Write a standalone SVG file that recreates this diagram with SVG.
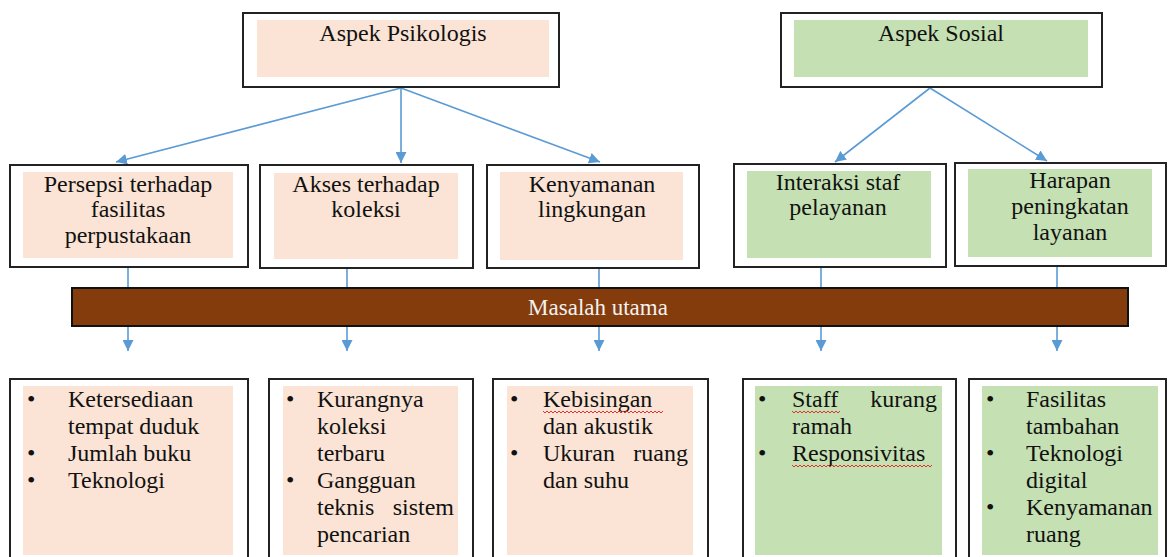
<svg xmlns="http://www.w3.org/2000/svg" width="1168" height="557" viewBox="0 0 1168 557">
<defs>
<style>
.frame{fill:#fff;stroke:#222;stroke-width:2}
.peach{fill:#FBE4D5}
.green{fill:#C5E0B3}
.t{font-family:"Liberation Serif","Times New Roman","DejaVu Serif",serif;font-size:24px;fill:#111}
.c{text-anchor:middle}
.e{text-anchor:end}
.bar{fill:#843C0C;stroke:#111;stroke-width:2}
.bt{font-family:"Liberation Serif","Times New Roman","DejaVu Serif",serif;font-size:23px;fill:#F2F2F2;text-anchor:middle}
.conn{stroke:#5B9BD5;stroke-width:1.6;fill:none}
.spell{stroke:#E03030;stroke-width:1;fill:none}
</style>
<marker id="ah" viewBox="0 0 10 10" refX="10" refY="5" markerWidth="11" markerHeight="11" markerUnits="userSpaceOnUse" orient="auto">
<path d="M0,0 L10,5 L0,10 z" fill="#5B9BD5"/>
</marker>
</defs>
<rect width="1168" height="557" fill="#fff"/>

<g id="connectors">
<line class="conn" x1="401" y1="88" x2="116" y2="162" marker-end="url(#ah)"/>
<line class="conn" x1="401" y1="88" x2="401" y2="163" marker-end="url(#ah)"/>
<line class="conn" x1="401" y1="88" x2="600" y2="162" marker-end="url(#ah)"/>
<line class="conn" x1="930" y1="88" x2="835" y2="162" marker-end="url(#ah)"/>
<line class="conn" x1="930" y1="88" x2="1047" y2="161" marker-end="url(#ah)"/>
<line class="conn" x1="128" y1="267" x2="128" y2="288"/>
<line class="conn" x1="347" y1="268" x2="347" y2="288"/>
<line class="conn" x1="599" y1="268" x2="599" y2="288"/>
<line class="conn" x1="821" y1="267" x2="821" y2="288"/>
<line class="conn" x1="1057" y1="266" x2="1057" y2="288"/>
<line class="conn" x1="128" y1="326" x2="128" y2="351" marker-end="url(#ah)"/>
<line class="conn" x1="347" y1="326" x2="347" y2="351" marker-end="url(#ah)"/>
<line class="conn" x1="599" y1="326" x2="599" y2="351" marker-end="url(#ah)"/>
<line class="conn" x1="821" y1="326" x2="821" y2="351" marker-end="url(#ah)"/>
<line class="conn" x1="1057" y1="326" x2="1057" y2="351" marker-end="url(#ah)"/>
</g>

<g id="aspek-psikologis">
<rect class="frame" x="243" y="13" width="316" height="74"/>
<rect class="peach" x="257" y="20" width="292" height="57"/>
<text class="t c" x="403" y="41">Aspek Psikologis</text>
</g>
<g id="aspek-sosial">
<rect class="frame" x="781" y="13" width="321" height="74"/>
<rect class="green" x="794" y="20" width="294" height="57"/>
<text class="t c" x="941" y="41">Aspek Sosial</text>
</g>

<g id="persepsi">
<rect class="frame" x="10" y="165" width="238" height="102"/>
<rect class="peach" x="23" y="172" width="210" height="86"/>
<text class="t c" x="128" y="192">Persepsi terhadap</text>
<text class="t c" x="128" y="217">fasilitas</text>
<text class="t c" x="128" y="243">perpustakaan</text>
</g>
<g id="akses">
<rect class="frame" x="260" y="165" width="213" height="103"/>
<rect class="peach" x="274" y="173" width="184" height="86"/>
<text class="t c" x="366" y="192">Akses terhadap</text>
<text class="t c" x="366" y="217">koleksi</text>
</g>
<g id="kenyamanan">
<rect class="frame" x="487" y="165" width="212" height="103"/>
<rect class="peach" x="500" y="172" width="183" height="88"/>
<text class="t c" x="592" y="192">Kenyamanan</text>
<text class="t c" x="592" y="217">lingkungan</text>
</g>
<g id="interaksi">
<rect class="frame" x="734" y="164" width="212" height="103"/>
<rect class="green" x="747" y="171" width="184" height="87"/>
<text class="t c" x="838" y="190">Interaksi staf</text>
<text class="t c" x="838" y="215">pelayanan</text>
</g>
<g id="harapan">
<rect class="frame" x="955" y="163" width="211" height="103"/>
<rect class="green" x="968" y="169" width="184" height="88"/>
<text class="t c" x="1070" y="188">Harapan</text>
<text class="t c" x="1070" y="214">peningkatan</text>
<text class="t c" x="1070" y="240">layanan</text>
</g>

<g id="masalah-utama">
<rect class="bar" x="72" y="288" width="1056" height="38"/>
<text class="bt" x="598" y="315">Masalah utama</text>
</g>

<g id="detail-persepsi">
<rect class="frame" x="10" y="379" width="238" height="190"/>
<rect class="peach" x="23" y="386" width="210" height="169"/>
<text class="t" x="27" y="407">•</text><text class="t" x="68" y="407">Ketersediaan</text>
<text class="t" x="68" y="434">tempat duduk</text>
<text class="t" x="27" y="461">•</text><text class="t" x="68" y="461">Jumlah buku</text>
<text class="t" x="27" y="488">•</text><text class="t" x="68" y="488">Teknologi</text>
</g>
<g id="detail-akses">
<rect class="frame" x="269" y="379" width="204" height="190"/>
<rect class="peach" x="283" y="386" width="175" height="169"/>
<text class="t" x="286" y="407">•</text><text class="t" x="317" y="407">Kurangnya</text>
<text class="t" x="317" y="434">koleksi</text>
<text class="t" x="317" y="461">terbaru</text>
<text class="t" x="286" y="488">•</text><text class="t" x="317" y="488">Gangguan</text>
<text class="t" x="317" y="515">teknis</text><text class="t e" x="454" y="515">sistem</text>
<text class="t" x="317" y="542">pencarian</text>
</g>
<g id="detail-kenyamanan">
<rect class="frame" x="493" y="379" width="215" height="190"/>
<rect class="peach" x="507" y="386" width="186" height="169"/>
<text class="t" x="510" y="407">•</text><text class="t" x="543" y="407">Kebisingan</text>
<path class="spell" d="M543,411 l2,2 l2,-2 l2,2 l2,-2 l2,2 l2,-2 l2,2 l2,-2 l2,2 l2,-2 l2,2 l2,-2 l2,2 l2,-2 l2,2 l2,-2 l2,2 l2,-2 l2,2 l2,-2 l2,2 l2,-2 l2,2 l2,-2 l2,2 l2,-2 l2,2 l2,-2 l2,2 l2,-2 l2,2 l2,-2 l2,2 l2,-2 l2,2 l2,-2 l2,2 l2,-2 l2,2 l2,-2 l2,2 l2,-2 l2,2 l2,-2 l2,2 l2,-2 l2,2 l2,-2 l2,2 l2,-2 l2,2 l2,-2 l2,2 l2,-2 l2,2 l2,-2 l2,2 l2,-2 l2,2 l2,-2"/>
<text class="t" x="543" y="434">dan akustik</text>
<text class="t" x="510" y="461">•</text><text class="t" x="543" y="461">Ukuran</text><text class="t e" x="688" y="461">ruang</text>
<text class="t" x="543" y="488">dan suhu</text>
</g>
<g id="detail-interaksi">
<rect class="frame" x="743" y="379" width="213" height="190"/>
<rect class="green" x="755" y="386" width="187" height="169"/>
<text class="t" x="758" y="407">•</text><text class="t" x="792" y="407">Staff</text><text class="t e" x="937" y="407">kurang</text>
<path class="spell" d="M792,411 l2,2 l2,-2 l2,2 l2,-2 l2,2 l2,-2 l2,2 l2,-2 l2,2 l2,-2 l2,2 l2,-2 l2,2 l2,-2 l2,2 l2,-2 l2,2 l2,-2 l2,2 l2,-2 l2,2 l2,-2 l2,2 l2,-2"/>
<text class="t" x="792" y="434">ramah</text>
<text class="t" x="758" y="461">•</text><text class="t" x="792" y="461">Responsivitas</text>
<path class="spell" d="M792,465 l2,2 l2,-2 l2,2 l2,-2 l2,2 l2,-2 l2,2 l2,-2 l2,2 l2,-2 l2,2 l2,-2 l2,2 l2,-2 l2,2 l2,-2 l2,2 l2,-2 l2,2 l2,-2 l2,2 l2,-2 l2,2 l2,-2 l2,2 l2,-2 l2,2 l2,-2 l2,2 l2,-2 l2,2 l2,-2 l2,2 l2,-2 l2,2 l2,-2 l2,2 l2,-2 l2,2 l2,-2 l2,2 l2,-2 l2,2 l2,-2 l2,2 l2,-2 l2,2 l2,-2 l2,2 l2,-2 l2,2 l2,-2 l2,2 l2,-2 l2,2 l2,-2 l2,2 l2,-2 l2,2 l2,-2 l2,2 l2,-2 l2,2 l2,-2 l2,2 l2,-2 l2,2 l2,-2 l2,2 l2,-2"/>
</g>
<g id="detail-harapan">
<rect class="frame" x="969" y="379" width="197" height="190"/>
<rect class="green" x="982" y="386" width="176" height="169"/>
<text class="t" x="986" y="407">•</text><text class="t" x="1026" y="407">Fasilitas</text>
<text class="t" x="1026" y="434">tambahan</text>
<text class="t" x="986" y="461">•</text><text class="t" x="1026" y="461">Teknologi</text>
<text class="t" x="1026" y="488">digital</text>
<text class="t" x="986" y="515">•</text><text class="t" x="1026" y="515">Kenyamanan</text>
<text class="t" x="1026" y="542">ruang</text>
</g>
</svg>
